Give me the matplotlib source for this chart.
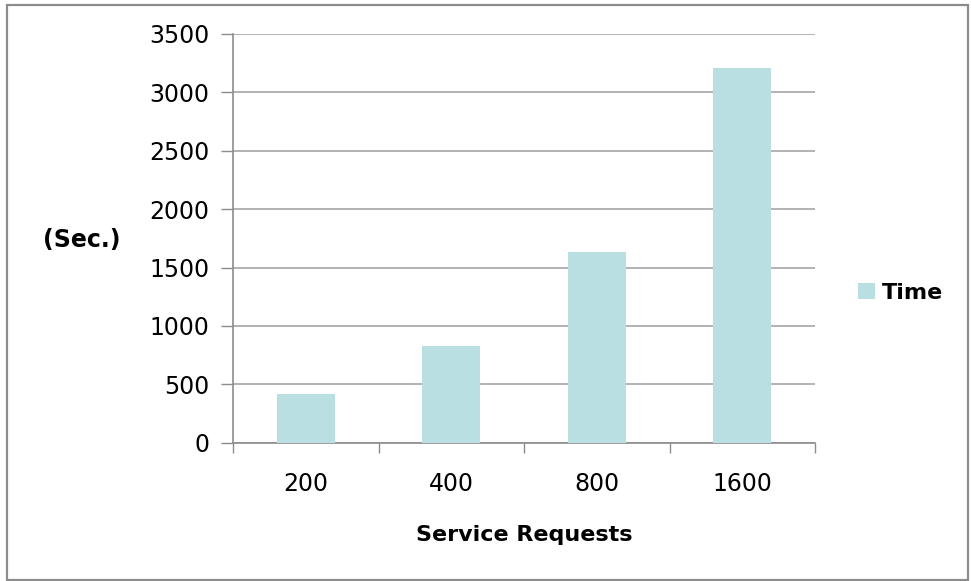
import matplotlib
matplotlib.use("Agg")
import matplotlib.pyplot as plt
from matplotlib.patches import Rectangle

# data
requests = ["200", "400", "800", "1600"]
times = [420, 830, 1630, 3210]
y_ticks = [0, 500, 1000, 1500, 2000, 2500, 3000, 3500]

bar_color = "#B9DFE2"
grid_color = "#A6A6A6"
axis_color = "#8C8C8C"

plt.rcParams['font.family'] = ['DejaVu Sans']

fig = plt.figure(figsize=(9.71, 5.81), dpi=100)
W, H = 971, 581
ax = fig.add_axes([233 / W, 1 - 442.7 / H, (815 - 233) / W, (442.7 - 34) / H])

x = list(range(len(requests)))
bars = ax.bar(x, times, width=0.4, color=bar_color, label="Time", zorder=3)

ax.set_xlim(-0.5, len(requests) - 0.5)
ax.set_ylim(0, 3500)
ax.set_yticks(y_ticks)
ax.set_yticklabels([str(t) for t in y_ticks], fontsize=17)
ax.grid(axis="y", color=grid_color, linewidth=1.2, zorder=0)

# category labels between boundary ticks
ax.set_xticks([i + 0.5 for i in range(-1, len(requests))])
ax.set_xticklabels([])
ax.set_xticks(x, minor=True)
ax.set_xticklabels(requests, minor=True, fontsize=17)
ax.tick_params(axis="x", which="minor", length=0, pad=21)
ax.tick_params(axis="x", which="major", length=7, color=axis_color, width=1)
ax.tick_params(axis="y", length=9, color=axis_color, width=1, pad=8)

for s in ["top", "right"]:
    ax.spines[s].set_visible(False)
for s in ["left", "bottom"]:
    ax.spines[s].set_color(axis_color)
    ax.spines[s].set_linewidth(1.2)

fig.text(524 / W, 1 - 535 / H, "Service Requests", ha="center", va="center",
         fontsize=16, fontweight="bold")
fig.text(82 / W, 1 - 240 / H, "(Sec.)", ha="center", va="center",
         fontsize=17, fontweight="bold")

fig.legend(handles=[bars], labels=["Time"], loc="center left",
           bbox_to_anchor=(847 / W, 1 - 293 / H), frameon=False,
           handlelength=0.75, handleheight=0.75, handletextpad=0.3,
           borderpad=0, prop={"size": 16, "weight": "bold"})

fig.patches.append(Rectangle((7 / W, 1 - 580 / H), (968 - 7) / W, (580 - 5) / H,
                             transform=fig.transFigure, fill=False,
                             edgecolor=axis_color, linewidth=1.6))

fig.savefig("out.png", dpi=100)
